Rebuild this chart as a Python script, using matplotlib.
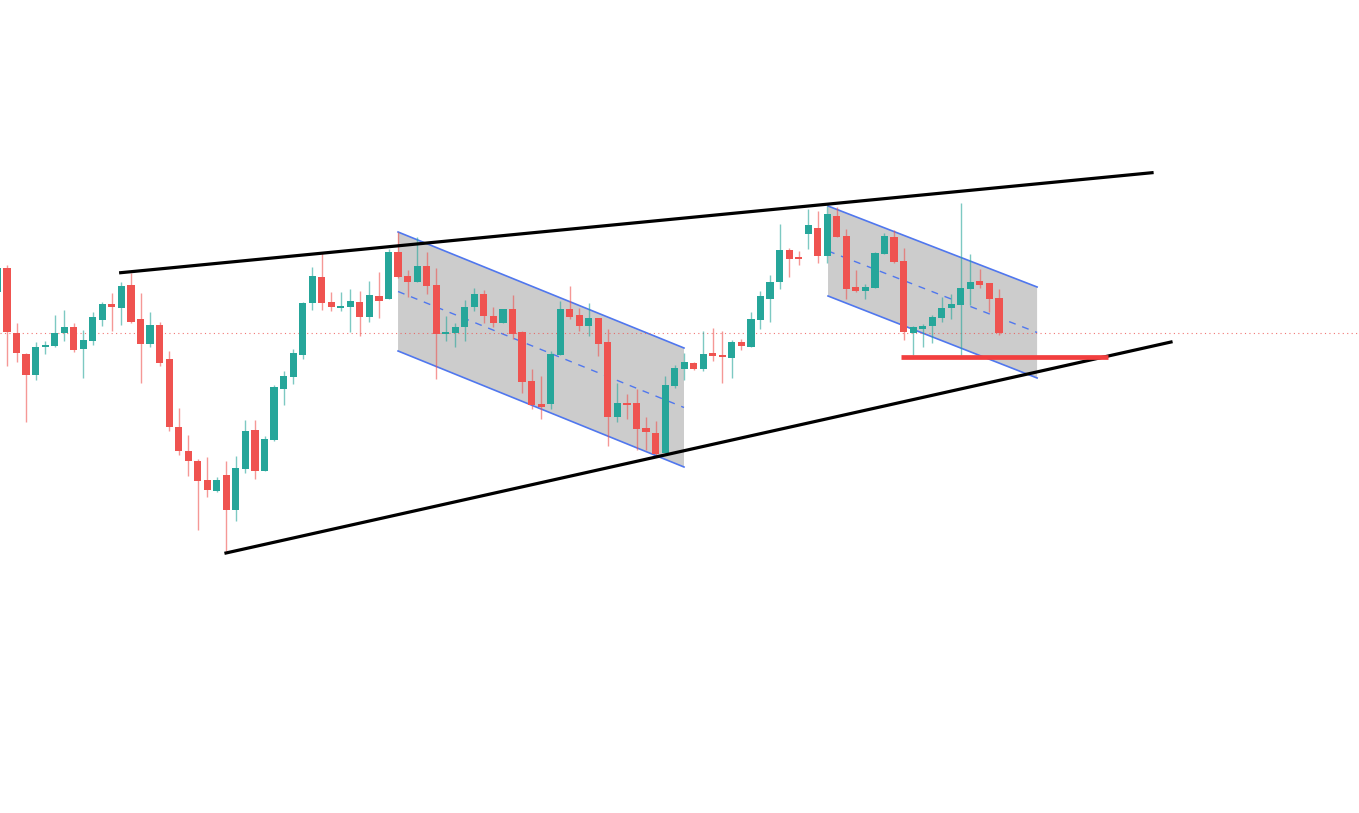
import numpy as np
from matplotlib import pyplot as plt
from matplotlib.patches import Polygon

# candles (open, high, low, close)
opens = [521, 545, 480, 459, 438, 466, 467, 480, 486, 464, 472, 493, 509, 505, 528, 494, 469, 488, 454, 386,
         362, 352, 333, 322, 338, 303, 344, 383, 342, 373, 424, 436, 458, 510, 536, 511, 505, 506, 511, 496,
         517, 514, 561, 537, 531, 547, 528, 479, 480, 486, 506, 519, 497, 490, 504, 481, 432, 409, 409, 458,
         504, 498, 487, 495, 471, 396, 409, 410, 385, 380, 360, 427, 444, 450, 444, 460, 457, 455, 471, 466,
         493, 514, 531, 563, 556, 579, 585, 557, 597, 577, 526, 522, 525, 559, 576, 552, 480, 484, 487, 495,
         505, 508, 524, 532, 530, 515]
highs = [547, 548, 490, 460, 471, 472, 498, 503, 490, 483, 501, 511, 520, 531, 540, 520, 501, 491, 462, 405,
         378, 354, 356, 336, 352, 357, 393, 393, 377, 428, 442, 464, 511, 546, 560, 521, 521, 524, 522, 532,
         541, 564, 581, 543, 576, 561, 545, 497, 490, 513, 525, 523, 506, 504, 518, 482, 444, 437, 462, 512,
         527, 505, 510, 495, 484, 430, 419, 424, 396, 392, 437, 448, 460, 451, 482, 485, 482, 473, 474, 501,
         522, 538, 589, 565, 562, 604, 602, 607, 606, 584, 543, 529, 561, 580, 583, 565, 487, 489, 498, 516,
         519, 610, 559, 544, 530, 524]
lows = [519, 447, 451, 391, 433, 459, 466, 472, 461, 435, 468, 487, 482, 488, 490, 430, 466, 447, 382, 358,
        337, 283, 316, 321, 262, 292, 340, 334, 342, 372, 408, 429, 454, 503, 503, 502, 502, 481, 477, 491,
        495, 514, 535, 516, 531, 519, 434, 472, 466, 472, 502, 490, 486, 490, 474, 420, 404, 394, 404, 458,
        494, 482, 477, 457, 367, 391, 394, 363, 363, 356, 360, 425, 433, 443, 442, 452, 430, 435, 463, 466,
        484, 491, 524, 536, 548, 564, 550, 550, 576, 514, 521, 514, 525, 559, 550, 473, 458, 466, 470, 491,
        494, 458, 508, 525, 501, 478]
closes = [545, 481, 460, 438, 466, 468, 480, 486, 463, 473, 496, 509, 506, 527, 491, 469, 488, 450, 386, 362,
          352, 332, 323, 333, 303, 345, 382, 342, 374, 426, 437, 460, 510, 537, 510, 506, 507, 512, 496, 518,
          512, 561, 536, 531, 547, 527, 479, 481, 486, 506, 519, 497, 490, 504, 479, 431, 408, 406, 459, 504,
          496, 487, 495, 469, 396, 410, 408, 384, 381, 359, 428, 445, 451, 444, 459, 457, 456, 471, 467, 494,
          517, 531, 563, 554, 554, 588, 557, 599, 576, 524, 522, 526, 560, 577, 551, 481, 486, 487, 496, 505,
          509, 525, 531, 528, 514, 480]

# drawings: (index, price) end points
upper_trend = [(12.92, 540.3), (121.05, 640.3)]
lower_trend = [(23.96, 260.0), (123.04, 471.0)]
chan1_x = [42.0, 71.98]
chan1_top = [581, 465]
chan1_bot = [462, 346]
chan2_x = [87.08, 109.0]
chan2_top = [607, 526]
chan2_bot = [517, 435]
support_x = [94.73, 116.43]
support_y = 456

up_col = '#26a69a'
dn_col = '#ef5350'
blue = '#5077ee'

fig = plt.figure(figsize=(13.59, 8.13), dpi=100)
ax = fig.add_axes([0, 0, 1, 1])
ax.set_xlim(0.266, 142.75)
ax.set_ylim(0, 813)
ax.axis('off')

  # channels

for cx, ct, cb in [(chan1_x, chan1_top, chan1_bot), (chan2_x, chan2_top, chan2_bot)]:
    poly = Polygon([(cx[0], ct[0]), (cx[1], ct[1]), (cx[1], cb[1]), (cx[0], cb[0])],
                   closed=True, facecolor='#cccccc', edgecolor='none', zorder=1)
    ax.add_patch(poly)
    ax.plot(cx, ct, color=blue, lw=1.2, zorder=2)
    ax.plot(cx, cb, color=blue, lw=1.2, zorder=2)
    mid = [(ct[0] + cb[0]) / 2, (ct[1] + cb[1]) / 2]
    ax.plot(cx, mid, color=blue, lw=1.0, ls=(0, (5, 5)), zorder=2)

  # candles

for i in range(len(opens)):
    o, h, l, c = opens[i], highs[i], lows[i], closes[i]
    col = up_col if c >= o else dn_col
    ax.plot([i, i], [l, h], color=col, alpha=0.6, lw=1.0, solid_capstyle='butt', zorder=3)
    body = max(abs(c - o), 1.5)
    ax.bar(i, body, bottom=min(o, c), width=0.75, color=col, zorder=4)

  # last price line

ax.axhline(closes[-1], color=dn_col, lw=0.8, ls=(0, (1, 3)), alpha=0.8, zorder=2)

  # trend lines

ax.plot(*zip(*upper_trend), color='black', lw=2.3, zorder=5)
ax.plot(*zip(*lower_trend), color='black', lw=2.3, zorder=5)

ax.plot(support_x, [support_y, support_y], color='#f23f3f', lw=3.4, solid_capstyle='butt', zorder=6)

plt.savefig('out.png', dpi=100)
